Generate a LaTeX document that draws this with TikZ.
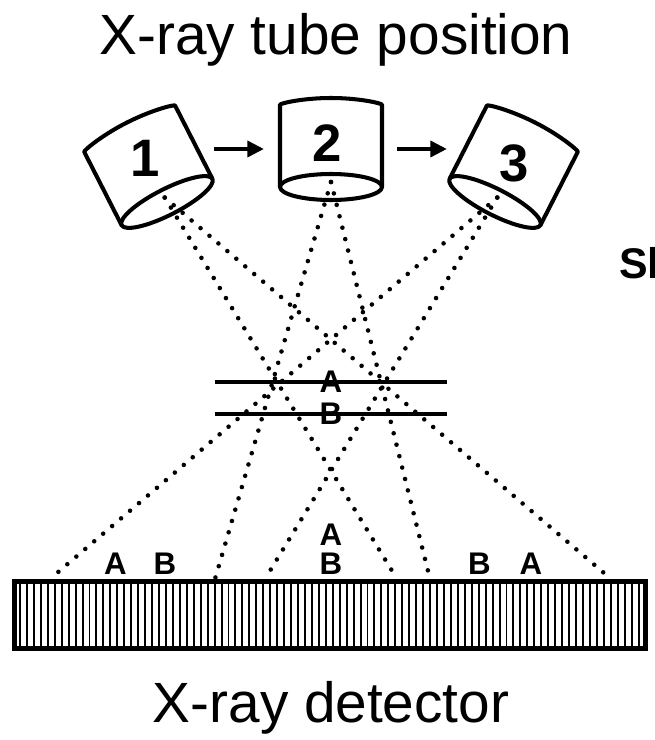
\documentclass[tikz,border=0pt]{standalone}
\usepackage{fontspec}
\setmainfont{Liberation Sans}
\usetikzlibrary{arrows.meta}

\tikzset{
  ray/.style={line width=2.6pt, line cap=round, dash pattern=on 0pt off 6.7pt},
  tube/.style={line width=2.3pt, line join=round},
  plane/.style={line width=2.3pt},
  move/.style={line width=2.8pt, -{Triangle[length=9.5pt,width=9pt]}},
  ab/.style={font=\fontsize{17.8}{20}\selectfont\bfseries, inner sep=0pt},
  num/.style={font=\fontsize{30}{36}\selectfont\bfseries, inner sep=0pt},
  caption/.style={font=\fontsize{32.3}{38}\selectfont, inner sep=0pt, anchor=base}
}

\begin{document}
\begin{tikzpicture}[x=0.02cm, y=-0.02cm]
\useasboundingbox (0,0) rectangle (655,740);

\node[caption] (title) at (336,55) {X-ray tube position};
\node[caption] (det) at (331,722) {X-ray detector};
\node[font=\fontsize{24.4}{28}\selectfont\bfseries, inner sep=0pt, anchor=west] (side) at (619,263) {Sl};

% the three tube positions
\foreach \i/\cx/\cy/\ang in {1/167/202/27, 2/331/187/0, 3/495/202/-27}{
  \begin{scope}[shift={(\cx,\cy)}, rotate=\ang]
    \draw[tube] (0,0) ellipse [x radius=51, y radius=13];
    \draw[tube, rounded corners=3pt] (-51,0) -- (-51,-77)
      arc [start angle=180, end angle=360, x radius=51, y radius=12] -- (51,0);
    \coordinate (f\i) at (0,-5);
  \end{scope}
}
\node[num] (n1) at (145,158) {1};
\node[num] (n2) at (327,143) {2};
\node[num] (n3) at (514,163) {3};

\coordinate (m1) at (214,149);
\coordinate (m2) at (397,149);
\draw[move] (m1) -- ++(50,0);
\draw[move] (m2) -- ++(50,0);

% where the rays land
\coordinate (h1) at (50,579);
\coordinate (h2) at (215,579);
\coordinate (h3) at (265,579);
\coordinate (h4) at (397,579);
\coordinate (h5) at (430,579);
\coordinate (h6) at (611,579);

\draw[ray] (f1) -- (h4);
\draw[ray] (f1) -- (h6);
\draw[ray] (f2) -- (h2);
\draw[ray] (f2) -- (h5);
\draw[ray] (f3) -- (h3);
\draw[ray] (f3) -- (h1);

% planes in the object
\draw[plane] (215,382) -- (447,382);
\draw[plane] (215,414) -- (447,414);
\node[ab] (pa) at (331,382) {A};
\node[ab] (pb) at (331,414) {B};

% detector
\draw[line width=2.8pt] (14.5,581.5) rectangle (645.5,648.5);
\foreach \k in {0,...,89}
\draw[line width=1.1pt] ({20+6.95*\k},584) -- ({20+6.95*\k},646);

\node[ab] (a1) at (115.5,564) {A};
\node[ab] (b1) at (165,564) {B};
\node[ab] (a2) at (331,535) {A};
\node[ab] (b2) at (331,564) {B};
\node[ab] (b3) at (479.5,564) {B};
\node[ab] (a3) at (531,564) {A};
\end{tikzpicture}
\end{document}
